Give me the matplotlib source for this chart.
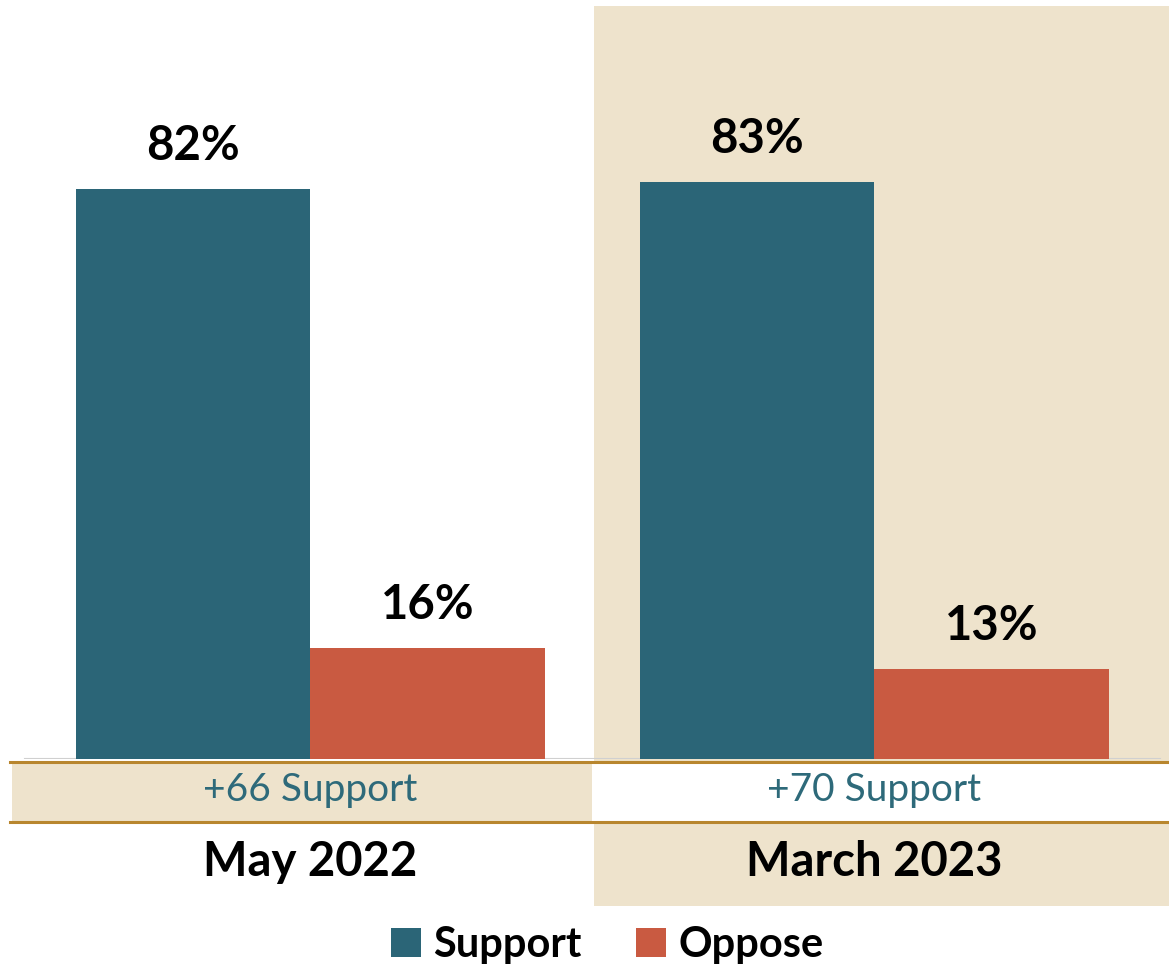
import matplotlib
matplotlib.use("Agg")
import matplotlib.pyplot as plt
from matplotlib.patches import Rectangle
from matplotlib.lines import Line2D

# ---- data ----
periods = ["May 2022", "March 2023"]
support = [82, 83]
oppose = [16, 13]
margins = ["+66 Support", "+70 Support"]
series_names = ["Support", "Oppose"]

# ---- styles ----
C_SUP = "#2B6577"
C_OPP = "#C95A41"
C_BEIGE = "#EEE3CC"
C_LINE = "#B8862E"
C_TEXT = "#2E6A7A"
FONT = "Lato"

W, H = 1169, 967
fig = plt.figure(figsize=(W / 100, H / 100), dpi=100)
fig.patch.set_facecolor("white")

def fx(x):
    return x / W

def fy(y):
    return 1 - y / H

# background panel for second period
fig.patches.append(Rectangle((fx(594), fy(906)), fx(1169) - fx(594), fy(6) - fy(906),
                             transform=fig.transFigure, facecolor=C_BEIGE,
                             edgecolor="none", zorder=-2))
# band row
fig.patches.append(Rectangle((fx(12), fy(822)), fx(592) - fx(12), fy(762) - fy(822),
                             transform=fig.transFigure, facecolor=C_BEIGE,
                             edgecolor="none", zorder=-1))
fig.patches.append(Rectangle((fx(592), fy(822)), fx(1169) - fx(592), fy(762) - fy(822),
                             transform=fig.transFigure, facecolor="white",
                             edgecolor="none", zorder=-1))
for yy in (762, 822):
    fig.lines.append(Line2D([fx(10), fx(1169)], [fy(yy), fy(yy)], transform=fig.transFigure,
                            color=C_LINE, lw=2.2, zorder=2))

# bar axes: y=0 at pixel 759, 100% at 759-695
base_px, scale = 759, 6.95
ax = fig.add_axes([0, fy(base_px), 1, (100 * scale) / H])
ax.set_zorder(3)
ax.set_facecolor("none")
ax.set_ylim(0, 100)
gc0, gsp = 310.5, 564.0
ax.set_xlim(-gc0 / gsp, (W - gc0) / gsp)
for s in ax.spines.values():
    s.set_visible(False)
ax.set_xticks([])
ax.set_yticks([])

bw = 234.5 / gsp
xs = list(range(len(periods)))
b1 = ax.bar([x - bw / 2 for x in xs], support, width=bw, color=C_SUP, label=series_names[0], zorder=3)
b2 = ax.bar([x + bw / 2 for x in xs], oppose, width=bw, color=C_OPP, label=series_names[1], zorder=3)
ax.axhline(0, xmin=fx(25), xmax=fx(1160), color="#D0D0D0", lw=1.5, zorder=2)

for bars, vals in ((b1, support), (b2, oppose)):
    for r, v in zip(bars, vals):
        ax.annotate(f"{v}%", (r.get_x() + r.get_width() / 2, v), xytext=(0, 15),
                    textcoords="offset points", ha="center", va="bottom",
                    fontsize=34, fontweight="bold", family=FONT, color="black")

# margin texts and category labels
for x, m, p in zip(xs, margins, periods):
    px = gc0 + x * gsp
    fig.text(fx(px), fy(790), m, ha="center", va="center", fontsize=28,
             family=FONT, color=C_TEXT, zorder=5)
    fig.text(fx(px), fy(862), p, ha="center", va="center", fontsize=34,
             fontweight="bold", family=FONT, color="black", zorder=5)

leg = fig.legend(handles=[b1, b2], loc="center", bbox_to_anchor=(fx(607), fy(945)),
                 ncol=2, frameon=False, handlelength=0.72, handleheight=0.72,
                 handletextpad=0.3, columnspacing=1.3,
                 prop={"family": FONT, "weight": "bold", "size": 30})

fig.savefig("out.png", dpi=100)
